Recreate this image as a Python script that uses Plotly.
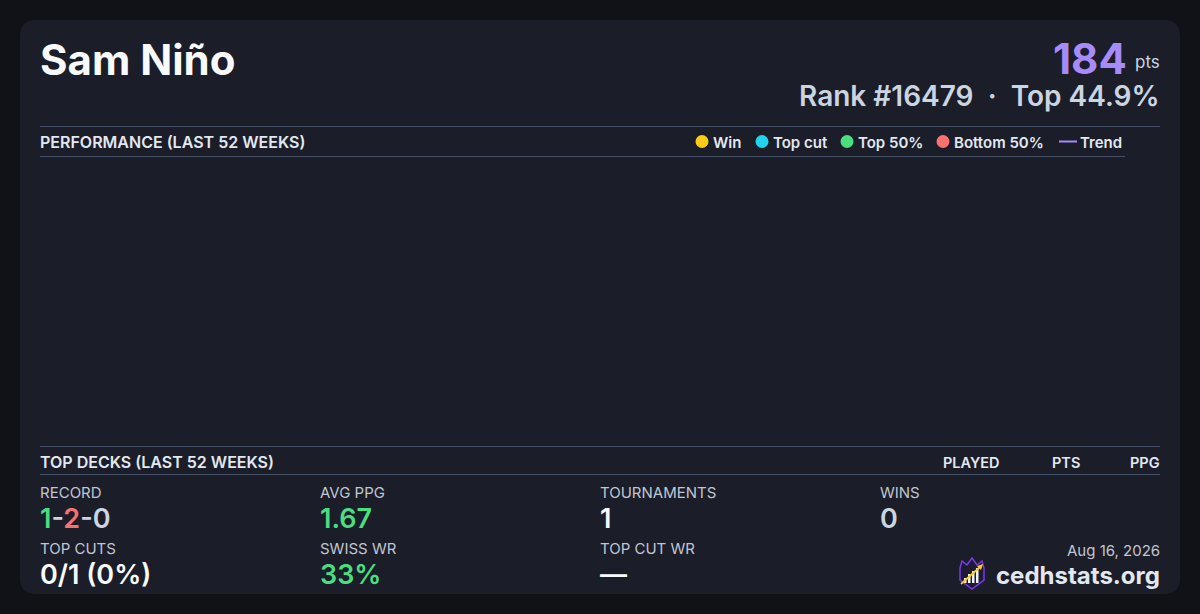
import plotly.graph_objects as go

# player card data
player_name = "Sam Niño"
points = 184
rank = 16479
top_pct = 44.9
report_date = "Aug 16, 2026"
site = "cedhstats.org"

legend_labels = ["Win", "Top cut", "Top 50%", "Bottom 50%", "Trend"]
legend_colors = ["#facc15", "#22d3ee", "#4ade80", "#f87171", "#a78bfa"]
legend_x = [702, 762, 847, 943, 1068]

deck_columns = ["PLAYED", "PTS", "PPG"]
deck_col_x = [1000, 1080, 1160]

record = [1, 2, 0]  # wins - losses - draws
stat_labels = ["RECORD", "AVG PPG", "TOURNAMENTS", "WINS",
               "TOP CUTS", "SWISS WR", "TOP CUT WR"]
stat_values = [None, "1.67", "1", "0", "0/1 (0%)", "33%", "—"]
stat_colors = [None, "#4ade80", "#f8fafc", "#cbd5e1", "#f8fafc", "#4ade80", "#f8fafc"]
stat_x = [40, 320, 600, 880, 40, 320, 600]
stat_row = [0, 0, 0, 0, 1, 1, 1]

FONT = "Inter"
BG = "#111217"
CARD = "#1b1d29"
LINE = "#435066"

fig = go.Figure()
# empty performance area (no tournaments plotted)
fig.add_trace(go.Scatter(x=[], y=[], mode="markers", showlegend=False))

shapes = []
ann = []

def text(x, y, s, size, color, weight=400, xa="left", ya="middle"):
    ann.append(dict(x=x, y=y, xref="x", yref="y", text=s, showarrow=False,
                    xanchor=xa, yanchor=ya, borderpad=0, borderwidth=0,
                    font=dict(family=FONT, size=size, color=color, weight=weight)))

# card
shapes.append(dict(type="path", xref="x", yref="y",
                   path="M 36,20 L 1164,20 Q 1180,20 1180,36 L 1180,578 Q 1180,594 1164,594 "
                        "L 36,594 Q 20,594 20,578 L 20,36 Q 20,20 36,20 Z",
                   fillcolor=CARD, line=dict(width=0), layer="below"))

# header
text(40, 59, player_name, 42, "#f8fafc", 700)
text(1127, 58, str(points), 42, "#a78bfa", 700, xa="right")
text(1160, 62, "pts", 17, "#cbd5e1", 400, xa="right")
text(1160, 96, f"Rank #{rank}  ·  Top {top_pct}%", 28, "#cbd5e1", 600, xa="right")

# performance section
shapes.append(dict(type="line", xref="x", yref="y", x0=40, x1=1160, y0=126.5, y1=126.5,
                   line=dict(color=LINE, width=1)))
shapes.append(dict(type="line", xref="x", yref="y", x0=40, x1=1125, y0=156.5, y1=156.5,
                   line=dict(color=LINE, width=1)))
text(40, 142, "PERFORMANCE (LAST 52 WEEKS)", 16, "#e2e8f0", 600)

for lab, col, lx in zip(legend_labels, legend_colors, legend_x):
    if lab == "Trend":
        shapes.append(dict(type="line", xref="x", yref="y", x0=lx - 9, x1=lx + 9,
                           y0=141.5, y1=141.5, line=dict(color=col, width=2)))
        text(lx + 12, 142, lab, 15, "#e2e8f0", 600)
    else:
        shapes.append(dict(type="circle", xref="x", yref="y", x0=lx - 6.5, x1=lx + 6.5,
                           y0=135, y1=148, fillcolor=col, line=dict(width=0)))
        text(lx + 10.5, 142, lab, 15, "#e2e8f0", 600)

# top decks section
shapes.append(dict(type="line", xref="x", yref="y", x0=40, x1=1160, y0=446.5, y1=446.5,
                   line=dict(color=LINE, width=1)))
shapes.append(dict(type="line", xref="x", yref="y", x0=40, x1=1160, y0=474.5, y1=474.5,
                   line=dict(color=LINE, width=1)))
text(40, 462, "TOP DECKS (LAST 52 WEEKS)", 16, "#e2e8f0", 600)
for c, cx in zip(deck_columns, deck_col_x):
    text(cx, 462, c, 14.5, "#e2e8f0", 600, xa="right")

# stats grid
label_y = [492, 548]
value_y = [518, 574]
for lab, val, col, sx, r in zip(stat_labels, stat_values, stat_colors, stat_x, stat_row):
    text(sx, label_y[r], lab, 15, "#c0c7d3", 400)
    if lab == "RECORD":
        s = (f"<span style='color:#4ade80'>{record[0]}</span>-"
             f"<span style='color:#f87171'>{record[1]}</span>-{record[2]}")
        text(sx, value_y[r], s, 27, "#cbd5e1", 600)
    else:
        text(sx, value_y[r], val, 27, col, 600)

# footer
text(1160, 550, report_date, 15, "#c0c7d3", 400, xa="right")
text(1160, 575, site, 24, "#e2e8f0", 700, xa="right")

# logo
shapes.append(dict(type="path", xref="x", yref="y",
                   path="M 960,568 L 962,561 L 967,565 L 972,558 L 977,565 L 982,561 L 984,568 "
                        "L 984,580 L 972,589 L 960,580 Z",
                   fillcolor="#1e1a33", line=dict(color="#7c3aed", width=1.5)))
for bx, top in zip([964, 968, 972, 976], [578, 574, 571, 568]):
    shapes.append(dict(type="rect", xref="x", yref="y", x0=bx, x1=bx + 2.5, y0=top, y1=583,
                       fillcolor="#f1f5f9", line=dict(width=0)))
shapes.append(dict(type="line", xref="x", yref="y", x0=961, y0=584, x1=980, y1=567,
                   line=dict(color="#facc15", width=1.8)))
shapes.append(dict(type="path", xref="x", yref="y",
                   path="M 983,564 L 977,566 L 981,570 Z",
                   fillcolor="#facc15", line=dict(width=0)))

fig.update_layout(
    width=1200, height=614,
    margin=dict(l=0, r=0, t=0, b=0),
    paper_bgcolor=BG, plot_bgcolor=BG,
    xaxis=dict(range=[0, 1200], visible=False, fixedrange=True),
    yaxis=dict(range=[614, 0], visible=False, fixedrange=True),
    shapes=shapes, annotations=ann,
    showlegend=False,
)

fig.write_html("out.html", config={"displayModeBar": False},
               post_script="document.body.style.margin='0';document.body.style.background='#111217';")
